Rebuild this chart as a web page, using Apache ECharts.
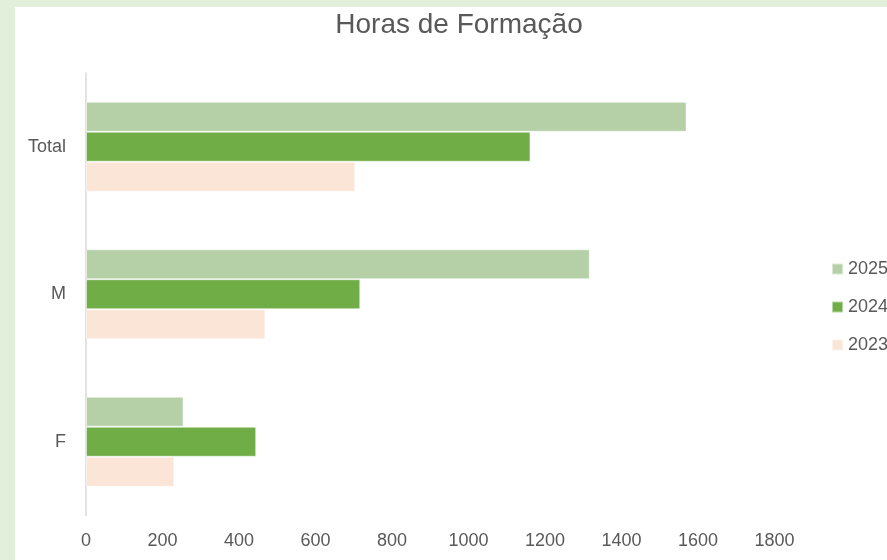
<!DOCTYPE html>
<html>
<head>
<meta charset="utf-8">
<script src="https://cdn.jsdelivr.net/npm/echarts@6/dist/echarts.min.js"></script>
<style>
  html, body { margin: 0; padding: 0; width: 887px; height: 560px; overflow: hidden; background: #e2efda; }
  #chart { position: absolute; left: 15px; top: 7px; width: 888px; height: 560px; background: #fff; }
</style>
</head>
<body>
<div id="chart"></div>
<script>
// dados
var categories = ['F', 'M', 'Total'];
var years = ['2025', '2024', '2023'];
var horas2023 = [231, 469, 704];
var horas2024 = [445, 717, 1162];
var horas2025 = [255, 1317, 1570];
var xTicks = { min: 0, max: 1800, step: 200 };

var cores = { '2023': '#fbe5d6', '2024': '#70ad47', '2025': '#b5d0a7' };
var fonte = '"Liberation Sans", Arial, sans-serif';
var cinza = '#595959';

var chart = echarts.init(document.getElementById('chart'));

var valores = { '2023': horas2023, '2024': horas2024, '2025': horas2025 };
// a primeira série fica em cima na barra horizontal
var series = years.map(function (y) {
    return {
        name: y,
        type: 'bar',
        data: valores[y],
        barGap: '0%',
        barCategoryGap: '39%',
        itemStyle: { color: cores[y], borderColor: 'rgba(255,255,255,0.5)', borderWidth: 1 },
        emphasis: { disabled: true }
    };
});

chart.setOption({
    animation: false,
    title: {
        text: 'Horas de Formação',
        left: 'center',
        top: 4,
        padding: 0,
        textStyle: { fontFamily: fonte, fontSize: 28, fontWeight: 'normal', color: cinza }
    },
    legend: {
        data: ['2025', '2024', '2023'],
        orient: 'vertical',
        left: 816,
        top: 253,
        padding: 0,
        itemWidth: 11,
        itemHeight: 11,
        itemGap: 20,
        icon: 'rect',
        textStyle: { fontFamily: fonte, fontSize: 18, color: cinza }
    },
    grid: { left: 71, top: 66, width: 688.5, height: 442.5 },
    xAxis: {
        type: 'value',
        min: xTicks.min,
        max: xTicks.max,
        interval: xTicks.step,
        axisLine: { show: false },
        axisTick: { show: false },
        splitLine: { show: false },
        axisLabel: {
            margin: 17, fontFamily: fonte, fontSize: 18, color: cinza,
            formatter: function (v) { return String(v); }
        }
    },
    yAxis: {
        type: 'category',
        data: categories,
        axisLine: { show: true, lineStyle: { color: '#d9d9d9', width: 1.5 } },
        axisTick: { show: false },
        axisLabel: { margin: 20, fontFamily: fonte, fontSize: 18, color: cinza }
    },
    series: series
});
</script>
</body>
</html>
